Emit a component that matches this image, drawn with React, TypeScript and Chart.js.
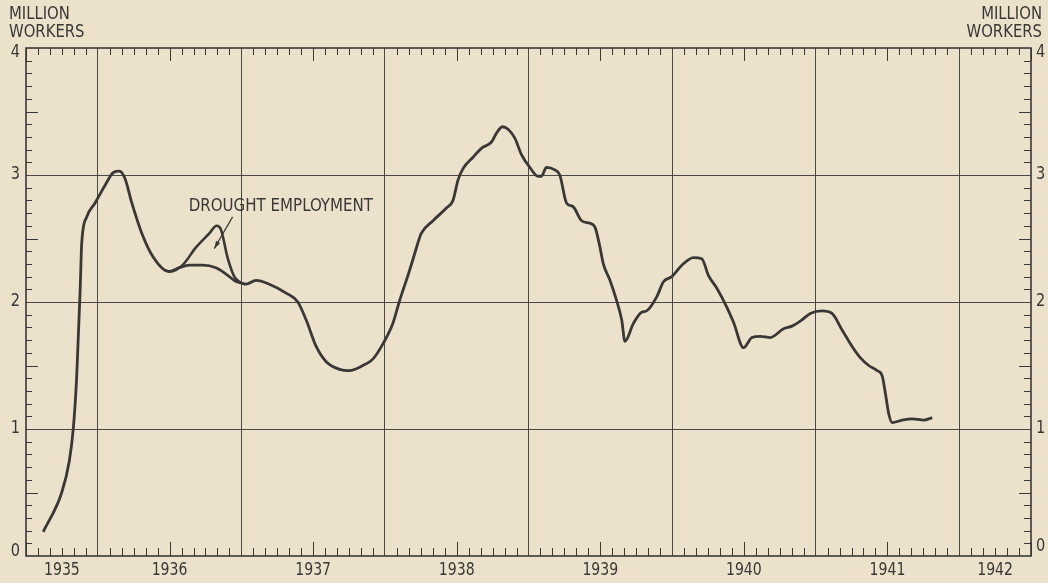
import React, { useEffect, useRef } from "react";
import { Chart, registerables } from "chart.js";

Chart.register(...registerables);

// ---- data (decimal years, million workers) ----
const mainDates = [
  1935.62, 1935.749, 1935.802, 1935.83, 1935.853, 1935.865, 1935.877, 1935.888, 1935.923, 1935.981,
  1936.051, 1936.109, 1936.151, 1936.19, 1936.237, 1936.307, 1936.388, 1936.493, 1936.567, 1936.637,
  1936.73, 1936.823, 1936.893, 1936.951, 1936.998, 1937.033, 1937.102, 1937.195, 1937.312, 1937.393,
  1937.451, 1937.521, 1937.591, 1937.684, 1937.753, 1937.846, 1937.916, 1937.986, 1938.055, 1938.102,
  1938.172, 1938.207, 1938.253, 1938.335, 1938.428, 1938.474, 1938.509, 1938.544, 1938.614, 1938.672,
  1938.742, 1938.777, 1938.819, 1938.858, 1938.905, 1938.951, 1939.009, 1939.067, 1939.09, 1939.125,
  1939.183, 1939.218, 1939.265, 1939.311, 1939.37, 1939.428, 1939.463, 1939.498, 1939.521, 1939.568,
  1939.614, 1939.649, 1939.672, 1939.73, 1939.788, 1939.823, 1939.893, 1939.94, 1939.998, 1940.068,
  1940.149, 1940.207, 1940.253, 1940.311, 1940.381, 1940.428, 1940.498, 1940.556, 1940.614, 1940.684,
  1940.777, 1940.835, 1940.905, 1940.963, 1941.044, 1941.114, 1941.184, 1941.254, 1941.312, 1941.37,
  1941.428, 1941.463, 1941.486, 1941.509, 1941.533, 1941.602, 1941.672, 1941.753, 1941.812,
];
const mainValues = [
  0.19, 0.5, 0.75, 1.01, 1.41, 1.75, 2.09, 2.46, 2.67, 2.78,
  2.92, 3.02, 3.03, 2.97, 2.78, 2.54, 2.35, 2.24, 2.27, 2.29,
  2.29, 2.27, 2.22, 2.17, 2.15, 2.14, 2.17, 2.14, 2.07, 2.0,
  1.86, 1.65, 1.53, 1.47, 1.46, 1.5, 1.55, 1.67, 1.83, 2.01,
  2.25, 2.38, 2.54, 2.64, 2.74, 2.8, 2.96, 3.05, 3.14, 3.21,
  3.26, 3.33, 3.38, 3.36, 3.29, 3.16, 3.06, 2.99, 2.99, 3.06,
  3.04, 3.0, 2.78, 2.75, 2.64, 2.62, 2.59, 2.43, 2.3, 2.17,
  2.01, 1.86, 1.69, 1.83, 1.92, 1.93, 2.04, 2.16, 2.2, 2.29,
  2.35, 2.34, 2.21, 2.11, 1.96, 1.84, 1.64, 1.72, 1.73, 1.72,
  1.79, 1.81, 1.86, 1.91, 1.93, 1.91, 1.78, 1.65, 1.56, 1.5,
  1.46, 1.42, 1.28, 1.12, 1.05, 1.07, 1.08, 1.07, 1.09,
];
const droughtDates = [1936.493, 1936.509, 1936.59, 1936.684, 1936.777, 1936.828, 1936.858, 1936.904, 1936.951, 1936.998];
const droughtValues = [2.24, 2.24, 2.29, 2.43, 2.54, 2.6, 2.57, 2.35, 2.2, 2.15];

const yearGrid = [1936, 1937, 1938, 1939, 1940, 1941, 1942];
const yearLabels = ["1935", "1936", "1937", "1938", "1939", "1940", "1941", "1942"];
const yearLabelPositions = [1935.75, 1936.5, 1937.5, 1938.5, 1939.5, 1940.5, 1941.5, 1942.25];
const yGridValues = [1, 2, 3];
const yTickLabels = ["0", "1", "2", "3", "4"];
const yTickValues = [0, 1, 2, 3, 4];
const X_MIN = 1935.5;
const X_MAX = 1942.5;
const Y_MIN = 0;
const Y_MAX = 4;
const annotationText = "DROUGHT EMPLOYMENT";
const annotationAt = { x: 1937.275, y: 2.75 };
const arrowFrom = { x: 1936.939, y: 2.67 };
const arrowTo = { x: 1936.811, y: 2.42 };

const BG = "#ece2cb";
const INK = "#3a3836";
const FONT = "'DejaVu Sans Condensed', 'DejaVu Sans', sans-serif";

function drawText(ctx: CanvasRenderingContext2D, text: string, x: number, y: number, size: number, align: "left" | "right" | "center", sx = 0.9) {
  ctx.save();
  ctx.font = `${size}px ${FONT}`;
  ctx.fillStyle = INK;
  ctx.textBaseline = "middle";
  const w = ctx.measureText(text).width * sx;
  let left = x;
  if (align === "center") left = x - w / 2;
  else if (align === "right") left = x - w;
  ctx.translate(left, y);
  ctx.scale(sx, 1);
  ctx.textAlign = "left";
  ctx.fillText(text, 0, 0);
  ctx.restore();
}

const decorPlugin = {
  id: "decor",
  beforeDraw(chart: any) {
    const ctx = chart.ctx as CanvasRenderingContext2D;
    ctx.save();
    ctx.fillStyle = BG;
    ctx.fillRect(0, 0, chart.width, chart.height);
    ctx.restore();
  },
  beforeDatasetsDraw(chart: any) {
    const ctx = chart.ctx as CanvasRenderingContext2D;
    const { left, right, top, bottom } = chart.chartArea;
    const xs = chart.scales.x;
    const ys = chart.scales.y;
    ctx.save();
    ctx.strokeStyle = INK;
    ctx.lineWidth = 1;
    for (let m = Math.ceil(X_MIN * 12); m <= Math.floor(X_MAX * 12); m++) {
      const mod = ((m % 12) + 12) % 12;
      if (mod === 0) continue;
      const px = Math.round(xs.getPixelForValue(m / 12)) + 0.5;
      const long = mod === 6;
      ctx.beginPath();
      ctx.moveTo(px, bottom);
      ctx.lineTo(px, bottom - (long ? 14 : 8));
      ctx.moveTo(px, top);
      ctx.lineTo(px, top + (long ? 13 : 7));
      ctx.stroke();
    }
    for (let k = 1; k < 40; k++) {
      if (k % 10 === 0) continue;
      const py = Math.round(ys.getPixelForValue(k / 10)) + 0.5;
      const long = k % 5 === 0;
      ctx.beginPath();
      ctx.moveTo(left, py);
      ctx.lineTo(left + (long ? 12 : 6), py);
      ctx.moveTo(right, py);
      ctx.lineTo(right - (long ? 12 : 7), py);
      ctx.stroke();
    }
    ctx.lineWidth = 1.6;
    ctx.strokeRect(left, top, right - left, bottom - top);
    ctx.restore();
  },
  afterDraw(chart: any) {
    const ctx = chart.ctx as CanvasRenderingContext2D;
    const { left, right, bottom } = chart.chartArea;
    const xs = chart.scales.x;
    const ys = chart.scales.y;
    drawText(ctx, "MILLION", 9, 15, 17, "left", 0.97);
    drawText(ctx, "WORKERS", 9, 33, 17, "left", 0.97);
    drawText(ctx, "MILLION", 1042, 15, 17, "right", 0.97);
    drawText(ctx, "WORKERS", 1042, 33, 17, "right", 0.97);
    yTickValues.forEach((v, i) => {
      let py = ys.getPixelForValue(v);
      if (v === Y_MAX) py += 5;
      if (v === Y_MIN) py -= 4;
      drawText(ctx, yTickLabels[i], left - 6, py, 17, "right", 0.95);
      drawText(ctx, yTickLabels[i], right + 5, py - (v === Y_MIN ? 5 : 0), 17, "left", 0.95);
    });
    yearLabelPositions.forEach((v, i) => {
      drawText(ctx, yearLabels[i], xs.getPixelForValue(v), bottom + 15, 17, "center", 0.92);
    });
    drawText(ctx, annotationText, xs.getPixelForValue(annotationAt.x), ys.getPixelForValue(annotationAt.y), 18, "center", 0.93);
    const x1 = xs.getPixelForValue(arrowFrom.x);
    const y1 = ys.getPixelForValue(arrowFrom.y);
    const x2 = xs.getPixelForValue(arrowTo.x);
    const y2 = ys.getPixelForValue(arrowTo.y);
    ctx.save();
    ctx.strokeStyle = INK;
    ctx.fillStyle = INK;
    ctx.lineWidth = 1.2;
    ctx.beginPath();
    ctx.moveTo(x1, y1);
    ctx.lineTo(x2, y2);
    ctx.stroke();
    const ang = Math.atan2(y2 - y1, x2 - x1);
    const ah = 8;
    ctx.beginPath();
    ctx.moveTo(x2, y2);
    ctx.lineTo(x2 - ah * Math.cos(ang - 0.3), y2 - ah * Math.sin(ang - 0.3));
    ctx.lineTo(x2 - ah * Math.cos(ang + 0.3), y2 - ah * Math.sin(ang + 0.3));
    ctx.closePath();
    ctx.fill();
    ctx.restore();
  },
};

export default function App() {
  const ref = useRef<HTMLCanvasElement | null>(null);
  useEffect(() => {
    document.body.style.margin = "0";
    document.body.style.background = BG;
    const canvas = ref.current;
    if (!canvas) return;
    const chart = new Chart(canvas, {
      type: "line",
      data: {
        datasets: [
          {
            label: "WPA employment",
            data: mainDates.map((d, i) => ({ x: d, y: mainValues[i] })),
            borderColor: INK,
            borderWidth: 2.8,
            pointRadius: 0,
            cubicInterpolationMode: "monotone",
            fill: false,
          },
          {
            label: "Drought employment",
            data: droughtDates.map((d, i) => ({ x: d, y: droughtValues[i] })),
            borderColor: INK,
            borderWidth: 2.6,
            pointRadius: 0,
            cubicInterpolationMode: "monotone",
            fill: false,
          },
        ],
      },
      options: {
        animation: false,
        responsive: false,
        devicePixelRatio: 1,
        layout: { padding: { left: 26, right: 17, top: 48, bottom: 27 } },
        plugins: { legend: { display: false }, tooltip: { enabled: false } },
        scales: {
          x: {
            type: "linear",
            min: X_MIN,
            max: X_MAX,
            afterBuildTicks: (s: any) => {
              s.ticks = yearGrid.map((v) => ({ value: v }));
            },
            grid: { color: "#4a4846", lineWidth: 1, drawTicks: false },
            border: { display: false },
            ticks: { display: false },
          },
          y: {
            type: "linear",
            min: Y_MIN,
            max: Y_MAX,
            afterBuildTicks: (s: any) => {
              s.ticks = yGridValues.map((v) => ({ value: v }));
            },
            grid: { color: "#4a4846", lineWidth: 1, drawTicks: false },
            border: { display: false },
            ticks: { display: false },
          },
        },
      },
      plugins: [decorPlugin],
    } as any);
    return () => chart.destroy();
  }, []);
  return (
    <div style={{ width: 1048, height: 583, position: "relative" }}>
      <canvas ref={ref} width={1048} height={583} style={{ display: "block" }} />
    </div>
  );
}
